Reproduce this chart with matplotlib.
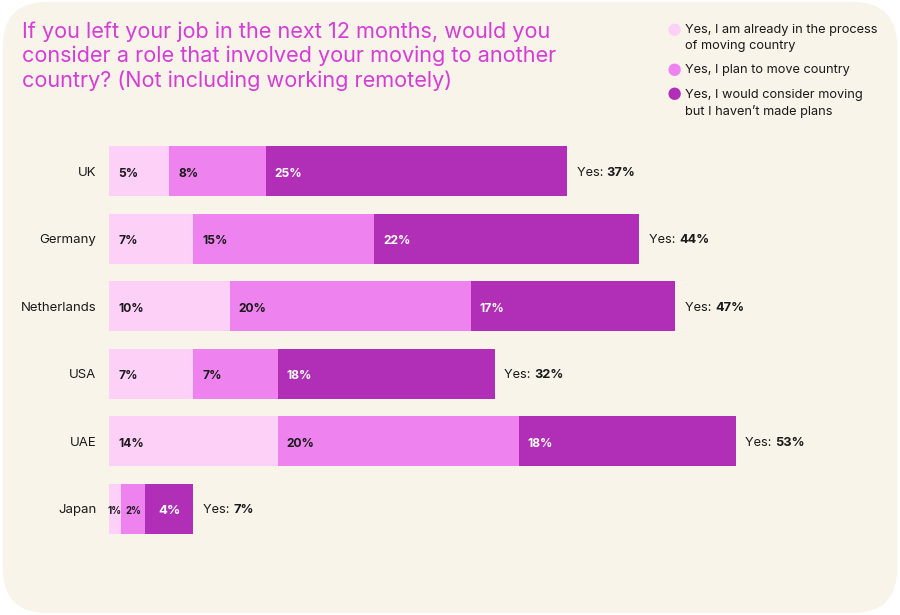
import matplotlib.pyplot as plt
import numpy as np
from matplotlib.patches import FancyBboxPatch

plt.rcParams["font.family"] = ["Inter", "DejaVu Sans"]

countries = ["UK", "Germany", "Netherlands", "USA", "UAE", "Japan"]
in_process = [5, 7, 10, 7, 14, 1]
plan_move = [8, 15, 20, 7, 20, 2]
would_consider = [25, 22, 17, 18, 18, 4]
yes_totals = ["37%", "44%", "47%", "32%", "53%", "7%"]

series_labels = [
    "Yes, I am already in the process\nof moving country",
    "Yes, I plan to move country",
    "Yes, I would consider moving\nbut I haven\u2019t made plans",
]
colors = ["#fdd0f8", "#ee82ee", "#b02fb6"]
label_colors = ["#1a1a1a", "#1a1a1a", "white"]
title = ("If you left your job in the next 12 months, would you\n"
         "consider a role that involved your moving to another\n"
         "country? (Not including working remotely)")

W, H = 900, 615
fig = plt.figure(figsize=(9, 6.15), dpi=100)
fig.patch.set_facecolor("white")
bg = FancyBboxPatch((0.003, 0.003), 0.994, 0.994,
                    boxstyle="round,pad=0,rounding_size=0.05",
                    transform=fig.transFigure, facecolor="#f9f4ea",
                    edgecolor="none", zorder=-10, mutation_aspect=W / H)
fig.patches.append(bg)

# axes: x=0 at 109px, 12.05 px per percent
ax_left = 109 / W
ax_w = 65 * 12.05 / W
ax_top = 137.5 / H
ax_bot = 542.5 / H
ax = fig.add_axes([ax_left, 1 - ax_bot, ax_w, ax_bot - ax_top])
ax.set_facecolor("none")
ax.set_xlim(0, 65)
n = len(countries)
ax.set_ylim(n - 0.5, -0.5)
for s in ax.spines.values():
    s.set_visible(False)
ax.set_xticks([])
ax.set_yticks(range(n))
ax.set_yticklabels(countries, fontsize=9.5, color="#1a1a1a")
ax.tick_params(axis="y", length=0, pad=9)

y = np.arange(n)
left = np.zeros(n)
for vals, col, lcol in zip([in_process, plan_move, would_consider], colors, label_colors):
    vals = np.array(vals, dtype=float)
    ax.barh(y, vals, left=left, height=0.74, color=col, edgecolor="none")
    for i in range(n):
        if vals[i] < 5:
            fs = 7 if vals[i] < 3 else 9.5
            ax.text(left[i] + vals[i] / 2, y[i] + 0.04, f"{int(vals[i])}%",
                    ha="center", va="center", fontsize=fs, fontweight="bold", color=lcol)
        else:
            ax.annotate(f"{int(vals[i])}%", (left[i], y[i] + 0.04), xytext=(6.5, 0),
                        textcoords="offset points", ha="left", va="center",
                        fontsize=8.7, fontweight="bold", color=lcol)
    left += vals

fig.canvas.draw()
renderer = fig.canvas.get_renderer()
for i in range(n):
    t = ax.annotate("Yes: ", (left[i], y[i] + 0.02), xytext=(7, 0),
                    textcoords="offset points", ha="left", va="center",
                    fontsize=9.2, color="#1a1a1a")
    bb = t.get_window_extent(renderer)
    ax.annotate(yes_totals[i], (left[i], y[i] + 0.02),
                xytext=(7 + bb.width * 72 / fig.dpi, 0),
                textcoords="offset points", ha="left", va="center",
                fontsize=9.2, fontweight="bold", color="#1a1a1a")

fig.text(22 / W, 1 - 21 / H, title, ha="left", va="top", fontsize=15.6,
         color="#d63cd6", linespacing=1.27)

# legend
leg_y = [[31, 47], [71], [96, 112]]
for lab, col, ys in zip(series_labels, colors, leg_y):
    fig.text(674 / W, 1 - ys[0] / H, "\u25cf", ha="center", va="center",
             fontsize=12, color=col)
    fig.text(685 / W, 1 - (ys[0] - 7) / H, lab, ha="left", va="top",
             fontsize=9.2, color="#1a1a1a", linespacing=1.45)

fig.savefig("out.png", dpi=100, facecolor=fig.get_facecolor())
